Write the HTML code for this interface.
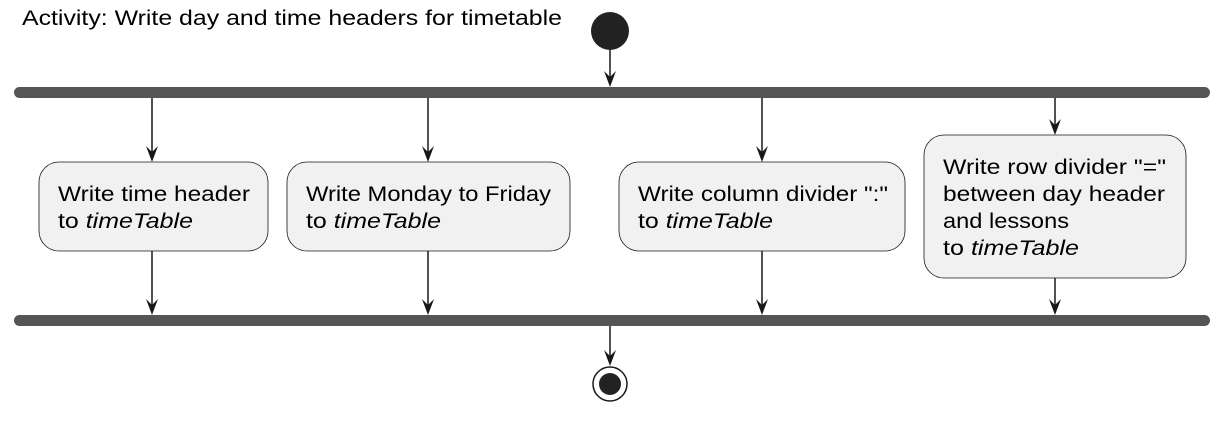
<!DOCTYPE html>
<html><head><meta charset="utf-8"><style>
html,body{margin:0;padding:0;background:#fff;}
svg text{font-family:"Liberation Sans",sans-serif;font-size:21px;fill:#000;}
.i{font-style:italic;}
</style></head><body>
<svg width="1222" height="418" viewBox="0 0 1222 418" xmlns="http://www.w3.org/2000/svg">
<defs><path id="h" d="M-6,-16 L0,0 L6,-16 L0,-10 Z" fill="#181818"/></defs>
<text x="22" y="25" textLength="540" lengthAdjust="spacingAndGlyphs">Activity: Write day and time headers for timetable</text>
<circle cx="610" cy="31" r="19" fill="#222"/>
<rect x="14" y="87" width="1196" height="11" rx="5.5" fill="#555"/>
<g stroke="#181818" stroke-width="1.5">
<line x1="610" y1="50" x2="610" y2="80"/>
<line x1="152" y1="98" x2="152" y2="155"/>
<line x1="428" y1="98" x2="428" y2="155"/>
<line x1="762" y1="98" x2="762" y2="155"/>
<line x1="1055" y1="98" x2="1055" y2="128"/>
<line x1="152" y1="251" x2="152" y2="309"/>
<line x1="428" y1="251" x2="428" y2="309"/>
<line x1="762" y1="251" x2="762" y2="309"/>
<line x1="1055" y1="278" x2="1055" y2="309"/>
<line x1="610" y1="326" x2="610" y2="360"/>
</g>
<use href="#h" x="610" y="87"/>
<use href="#h" x="152" y="162"/>
<use href="#h" x="428" y="162"/>
<use href="#h" x="762" y="162"/>
<use href="#h" x="1055" y="135"/>
<use href="#h" x="152" y="315"/>
<use href="#h" x="428" y="315"/>
<use href="#h" x="762" y="315"/>
<use href="#h" x="1055" y="315"/>
<use href="#h" x="610" y="366"/>
<g fill="#f1f1f1" stroke="#181818" stroke-width="0.8">
<rect x="39" y="162" width="229" height="89" rx="20"/>
<rect x="287" y="162" width="283" height="89" rx="20"/>
<rect x="619" y="162" width="286" height="89" rx="20"/>
<rect x="924" y="135" width="262" height="143" rx="20"/>
</g>
<text x="58" y="201" textLength="192" lengthAdjust="spacingAndGlyphs">Write time header</text>
<text x="58" y="228" textLength="135" lengthAdjust="spacingAndGlyphs">to <tspan class="i">timeTable</tspan></text>
<text x="306" y="201" textLength="245" lengthAdjust="spacingAndGlyphs">Write Monday to Friday</text>
<text x="306" y="228" textLength="135" lengthAdjust="spacingAndGlyphs">to <tspan class="i">timeTable</tspan></text>
<text x="638" y="201" textLength="250" lengthAdjust="spacingAndGlyphs">Write column divider ":"</text>
<text x="638" y="228" textLength="135" lengthAdjust="spacingAndGlyphs">to <tspan class="i">timeTable</tspan></text>
<text x="943" y="174" textLength="223" lengthAdjust="spacingAndGlyphs">Write row divider "="</text>
<text x="943" y="201" textLength="222" lengthAdjust="spacingAndGlyphs">between day header</text>
<text x="943" y="228" textLength="126" lengthAdjust="spacingAndGlyphs">and lessons</text>
<text x="943" y="255" textLength="136" lengthAdjust="spacingAndGlyphs">to <tspan class="i">timeTable</tspan></text>
<rect x="14" y="315" width="1196" height="11" rx="5.5" fill="#555"/>
<circle cx="610" cy="384" r="17" fill="#fff" stroke="#181818" stroke-width="1.5"/>
<circle cx="610" cy="384" r="11" fill="#222"/>
</svg>
</body></html>
